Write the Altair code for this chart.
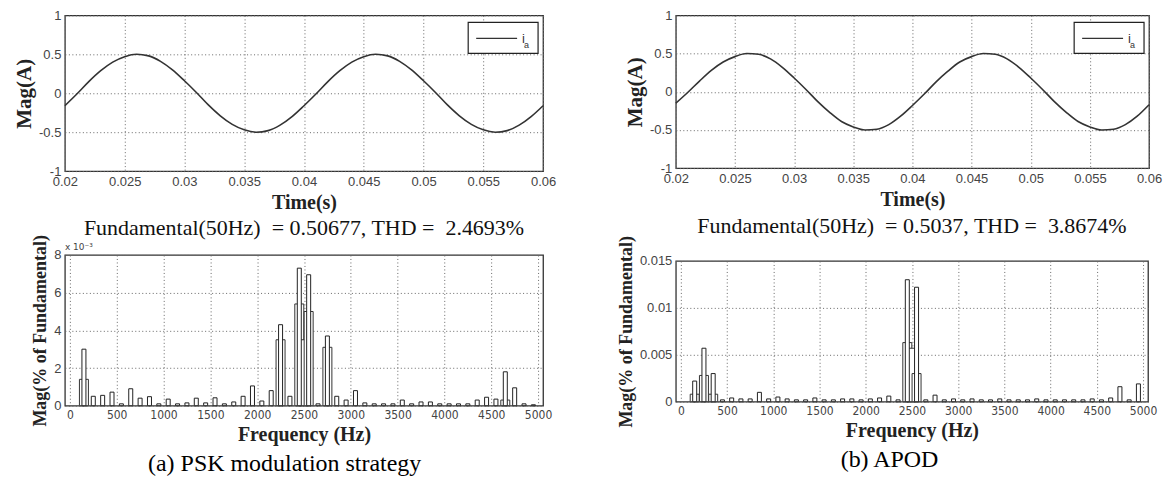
import altair as alt
import pandas as pd

# ---------------- data ----------------
time_s = [0.020, 0.021, 0.022, 0.023, 0.024, 0.025, 0.026, 0.027, 0.028, 0.029,
          0.030, 0.031, 0.032, 0.033, 0.034, 0.035, 0.036, 0.037, 0.038, 0.039,
          0.040, 0.041, 0.042, 0.043, 0.044, 0.045, 0.046, 0.047, 0.048, 0.049,
          0.050, 0.051, 0.052, 0.053, 0.054, 0.055, 0.056, 0.057, 0.058, 0.059,
          0.060]
ia_psk = [-0.16, -0.01, 0.15, 0.29, 0.40, 0.47, 0.50, 0.48, 0.41, 0.30,
          0.16, 0.01, -0.15, -0.29, -0.40, -0.47, -0.50, -0.48, -0.41, -0.30,
          -0.16, -0.01, 0.15, 0.29, 0.40, 0.47, 0.50, 0.48, 0.41, 0.30,
          0.16, 0.01, -0.15, -0.29, -0.40, -0.47, -0.50, -0.48, -0.41, -0.30,
          -0.16]
ia_apod = [-0.15, -0.01, 0.14, 0.28, 0.39, 0.46, 0.50, 0.49, 0.43, 0.32,
           0.18, 0.03, -0.13, -0.27, -0.39, -0.46, -0.50, -0.49, -0.43, -0.32,
           -0.18, -0.03, 0.13, 0.27, 0.39, 0.46, 0.50, 0.49, 0.43, 0.32,
           0.18, 0.03, -0.13, -0.27, -0.39, -0.46, -0.50, -0.49, -0.43, -0.32,
           -0.17]
time_ticks = [0.02, 0.025, 0.03, 0.035, 0.04, 0.045, 0.05, 0.055, 0.06]
amp_ticks = [-1, -0.5, 0, 0.5, 1]
freq_ticks = [0, 500, 1000, 1500, 2000, 2500, 3000, 3500, 4000, 4500, 5000]

# PSK spectrum (values in units of 1e-3)
psk_freq = [150, 250, 350, 450, 550, 650, 750, 850, 950, 1050, 1150, 1250, 1350,
            1450, 1550, 1650, 1750, 1850, 1950, 2050, 2150, 2250, 2350, 2450,
            2550, 2650, 2750, 2850, 2950, 3050, 3150, 3250, 3350, 3450, 3550,
            3650, 3750, 3850, 3950, 4050, 4150, 4250, 4350, 4450, 4550, 4650,
            4750, 4850, 4950]
psk_mag = [3.0, 0.5, 0.55, 0.72, 0.1, 0.9, 0.4, 0.48, 0.1, 0.35, 0.1, 0.15, 0.4,
           0.15, 0.42, 0.1, 0.2, 0.5, 1.05, 0.25, 0.8, 4.3, 0.5, 7.3,
           6.95, 0.1, 3.7, 0.5, 0.3, 0.8, 0.15, 0.1, 0.1, 0.1, 0.3,
           0.1, 0.2, 0.2, 0.1, 0.1, 0.1, 0.1, 0.3, 0.45, 0.35, 1.8,
           0.95, 0.1, 0.05]
psk_sh_freq = [150, 2250, 2450, 2500, 2550, 2750, 4650]
psk_sh_mag = [1.4, 3.5, 5.4, 3.5, 5.0, 3.1, 0.3]

# APOD spectrum
apod_freq = psk_freq
apod_mag = [0.0022, 0.0057, 0.0030, 0.0002, 0.0004, 0.0003, 0.0003, 0.0010, 0.0003,
            0.0005, 0.0003, 0.0002, 0.0002, 0.0004, 0.0002, 0.0002, 0.0003, 0.0003,
            0.0002, 0.0003, 0.0004, 0.0006, 0.0002, 0.0130, 0.0122, 0.0002, 0.0007,
            0.0002, 0.0003, 0.0002, 0.0003, 0.0002, 0.0002, 0.0003, 0.0002, 0.0002,
            0.0002, 0.0003, 0.0002, 0.0002, 0.0002, 0.0002, 0.0002, 0.0003, 0.0002,
            0.0004, 0.0016, 0.0002, 0.0019]
apod_sh_freq = [150, 250, 350, 2450, 2500, 2550]
apod_sh_mag = [0.0008, 0.0028, 0.0008, 0.0063, 0.0057, 0.0030]

SERIF = "Liberation Serif"
SANS = "Liberation Sans"
NARROW = "Liberation Sans Narrow, DejaVu Sans Condensed, Liberation Sans"

neg_label = "datum.value < 0 ? '-' + format(-datum.value, '~g') : format(datum.value, '~g')"
one = pd.DataFrame({"k": [0]})


def wave(vals, w, h):
    df = pd.DataFrame({"t": time_s, "ia": vals})
    line = alt.Chart(df).mark_line(interpolate="monotone", strokeWidth=1.6, color="#333").encode(
        x=alt.X("t:Q", scale=alt.Scale(domain=[0.02, 0.06], nice=False, zero=False),
                axis=alt.Axis(values=time_ticks, title="Time(s)", format="~g",
                              labelFlush=False, labelOverlap=False)),
        y=alt.Y("ia:Q", scale=alt.Scale(domain=[-1, 1], nice=False),
                axis=alt.Axis(values=amp_ticks, title="Mag(A)", labelExpr=neg_label,
                              titleFontSize=21)),
    )
    # legend box drawn by hand (inside the plot, top-right corner)
    box = alt.Chart(one).mark_rect(fill="white", stroke="#222", strokeWidth=1.2).encode(
        x=alt.value(w - 75), x2=alt.value(w - 5), y=alt.value(7), y2=alt.value(38))
    key = alt.Chart(one).mark_rule(color="#333", strokeWidth=1.2).encode(
        x=alt.value(w - 67), x2=alt.value(w - 26), y=alt.value(23))
    li = alt.Chart(pd.DataFrame({"s": ["i"]})).mark_text(
        align="left", baseline="alphabetic", font=SANS, fontSize=13, color="#333").encode(
        x=alt.value(w - 21), y=alt.value(28), text="s:N")
    la = alt.Chart(pd.DataFrame({"s": ["a"]})).mark_text(
        align="left", baseline="alphabetic", font=SANS, fontSize=9, color="#333").encode(
        x=alt.value(w - 19), y=alt.value(33), text="s:N")
    return alt.layer(line, box, key, li, la).properties(width=w, height=h)


def spectrum(freq, mag, sfreq, smag, ymax, yticks, title, title_offset, w, h, mult=False):
    main = pd.DataFrame({"f": freq, "m": mag})
    sh = pd.DataFrame({"f": sfreq, "m": smag})
    xenc = alt.X("f:Q", scale=alt.Scale(domain=[0, 5000], nice=False),
                 axis=alt.Axis(values=freq_ticks, title="Frequency (Hz)", format="d",
                               labelFlush=False, labelOverlap=False, labelFont=NARROW,
                               labelFontSize=12))
    yenc = alt.Y("m:Q", scale=alt.Scale(domain=[0, ymax], nice=False),
                 axis=alt.Axis(values=yticks, title="Mag(% of Fundamental)", labelExpr=neg_label,
                               titleFontSize=18))
    wide = alt.Chart(sh).mark_bar(size=9, fill="white", stroke="#333", strokeWidth=1).encode(
        x=xenc, y=yenc)
    thin = alt.Chart(main).mark_bar(size=4, fill="white", stroke="#222", strokeWidth=1).encode(
        x=xenc, y=yenc)
    layers = [wide, thin]
    if mult:
        note = alt.Chart(pd.DataFrame({"txt": ["x 10⁻³"]})).mark_text(
            align="left", baseline="bottom", font="DejaVu Sans", fontSize=9, color="#444"
        ).encode(x=alt.value(0), y=alt.value(-3), text="txt:N")
        layers.append(note)
    return alt.layer(*layers).properties(
        width=w, height=h,
        title=alt.TitleParams(title, font=SERIF, fontSize=22, fontWeight="normal",
                              color="#111", offset=title_offset, anchor="middle"))


tl = wave(ia_psk, 479, 156)
tr = wave(ia_apod, 474, 153)
bl = spectrum(psk_freq, psk_mag, psk_sh_freq, psk_sh_mag, 8, [0, 2, 4, 6, 8],
              "Fundamental(50Hz)\u00a0\u00a0= 0.50677, THD =\u00a0\u00a02.4693%", -5, 479, 151,
              mult=True)
br = spectrum(apod_freq, apod_mag, apod_sh_freq, apod_sh_mag, 0.015,
              [0, 0.005, 0.01, 0.015],
              "Fundamental(50Hz)\u00a0\u00a0= 0.5037, THD =\u00a0\u00a03.8674%", -2, 473, 141)

cap = dict(orient="bottom", anchor="middle", font=SERIF, fontSize=24,
           fontWeight="normal", color="black", offset=7)

left = alt.vconcat(tl, bl, spacing=2).properties(
    title=alt.TitleParams("(a) PSK modulation strategy", **cap))
right = alt.vconcat(tr, br, spacing=3).properties(
    title=alt.TitleParams("(b) APOD", **cap))

chart = alt.hconcat(left, right, spacing=59).properties(
    padding={"left": 12, "top": 8, "right": 2, "bottom": 2}
).configure_view(stroke="#333", strokeWidth=1.3).configure_axis(
    grid=True, gridDash=[1, 2.5], gridColor="#666", gridOpacity=1, gridWidth=1,
    ticks=False, domain=False, labelFont=SANS, labelFontSize=13, labelColor="#444",
    labelPadding=4, titleFont=SERIF, titleFontSize=20, titleFontWeight="bold",
    titleColor="#222", titlePadding=4
)

chart.save("out.html", embed_options={"renderer": "svg", "actions": False})
